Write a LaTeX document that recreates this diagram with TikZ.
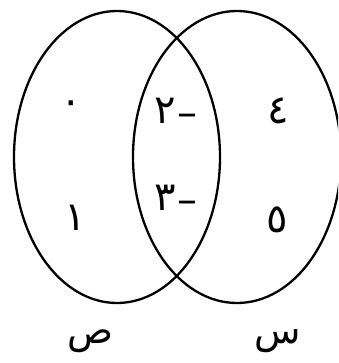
\documentclass[tikz,border=0pt]{standalone}
\usepackage{fontspec}
\newfontfamily\arabicfont[Script=Arabic]{DejaVu Sans}
\TeXXeTstate=1
\begin{document}
\begin{tikzpicture}[x=1pt,y=-1pt,
  setline/.style={draw=black,line width=2.3pt},
  num/.style={font=\arabicfont\fontsize{40}{42}\selectfont,inner sep=0pt},
  lbl/.style={font=\arabicfont\fontsize{38}{40}\selectfont,inner sep=0pt}]
\useasboundingbox (0,0) rectangle (338,363);
\clip (0,0) rectangle (338,363);
\draw[setline] (117,157) ellipse [x radius=103, y radius=146];
\draw[setline] (237,157) ellipse [x radius=104, y radius=146];
\node[num] (zero) at (71,108) {٠};
\node[num] (one) at (75,218) {١};
\node[num] (mtwo) at (176,112) {٢\kern2pt\raisebox{-3pt}{–}};
\node[num] (mthree) at (176,199) {٣\kern2pt\raisebox{-3pt}{–}};
\node[num] (four) at (278,111) {٤};
\node[num] (five) at (277,220) {٥};
\node[lbl] (sad) at (90,341) {\beginR ص\endR};
\node[lbl] (sin) at (278,341) {\beginR س\endR};
\end{tikzpicture}
\end{document}
